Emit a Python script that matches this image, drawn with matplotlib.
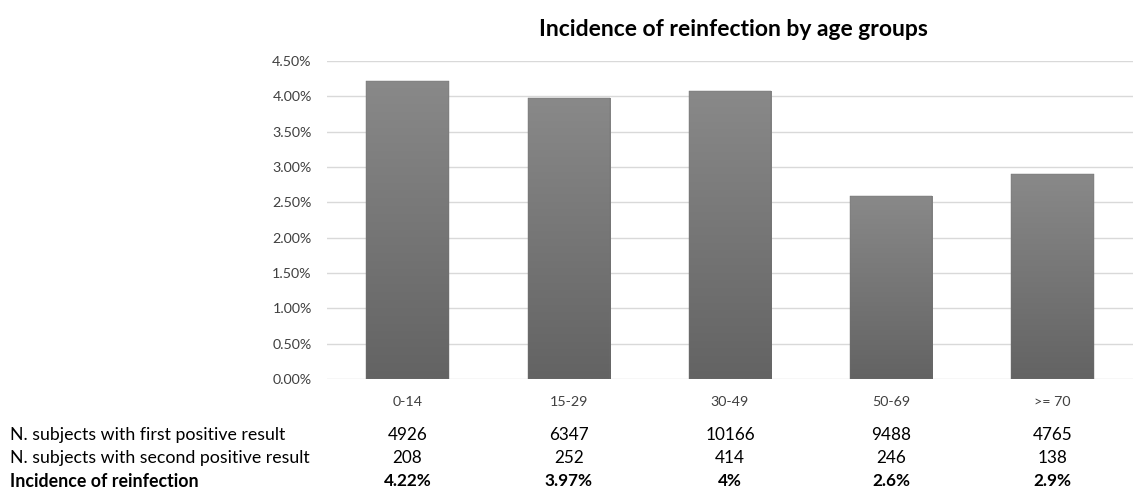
import numpy as np
import matplotlib.pyplot as plt
from matplotlib.ticker import FuncFormatter
from matplotlib.colors import LinearSegmentedColormap

plt.rcParams['font.family'] = ['Lato', 'DejaVu Sans']

age_groups = ['0-14', '15-29', '30-49', '50-69', '>= 70']
first_positive = [4926, 6347, 10166, 9488, 4765]
second_positive = [208, 252, 414, 246, 138]
incidence_labels = ['4.22%', '3.97%', '4%', '2.6%', '2.9%']
row_labels = ['N. subjects with first positive result',
              'N. subjects with second positive result',
              'Incidence of reinfection']

incidence = np.array(second_positive) / np.array(first_positive) * 100

fig = plt.figure(figsize=(11.4, 4.94), dpi=100)
ax = fig.add_axes([327 / 1140, 1 - 379 / 494, 806 / 1140, 318 / 494])

x = np.arange(len(age_groups))
bars = ax.bar(x, incidence, width=0.51, color='none', edgecolor='#707070',
              linewidth=0.3, zorder=3)

# vertical gray gradient inside each bar
cmap = LinearSegmentedColormap.from_list('bar_grey', ['#636363', '#898989'])
grad = np.linspace(0, 1, 256).reshape(-1, 1)
for b in bars:
    x0, y0 = b.get_x(), b.get_y()
    w, h = b.get_width(), b.get_height()
    im = ax.imshow(grad, cmap=cmap, extent=[x0, x0 + w, y0, y0 + h],
                   origin='lower', aspect='auto', zorder=2)
    im.set_clip_path(b)

ax.set_xlim(-0.5, len(age_groups) - 0.5)
ax.set_ylim(0, 4.5)
ax.set_yticks(np.arange(0, 4.51, 0.5))
ax.yaxis.set_major_formatter(FuncFormatter(lambda v, p: f'{v:.2f}%'))
ax.set_xticks(x)
ax.set_xticklabels(age_groups)
ax.grid(axis='y', color='#d9d9d9', linewidth=1, zorder=0)
for s in ax.spines.values():
    s.set_visible(False)
ax.tick_params(length=0, labelsize=10.3, colors='#404040')
ax.tick_params(axis='x', pad=12)
ax.tick_params(axis='y', pad=11)

fig.text(733 / 1140, 1 - 30 / 494, 'Incidence of reinfection by age groups',
         ha='center', va='center', fontsize=16.5, fontweight='bold')

# data table under the chart
rows = [[str(v) for v in first_positive],
        [str(v) for v in second_positive],
        incidence_labels]
row_y = [435, 458, 481]
for r, (label, vals) in enumerate(zip(row_labels, rows)):
    bold = 'bold' if r == 2 else 'normal'
    yf = 1 - row_y[r] / 494
    fig.text(10 / 1140, yf, label, ha='left', va='center', fontsize=12.8,
             fontweight=bold)
    for i, v in enumerate(vals):
        xd = ax.transData.transform((x[i], 0))[0] / fig.bbox.width
        fig.text(xd, yf, v, ha='center', va='center', fontsize=12.3,
                 fontweight=bold)

fig.savefig('out.png', dpi=100, facecolor='white')
